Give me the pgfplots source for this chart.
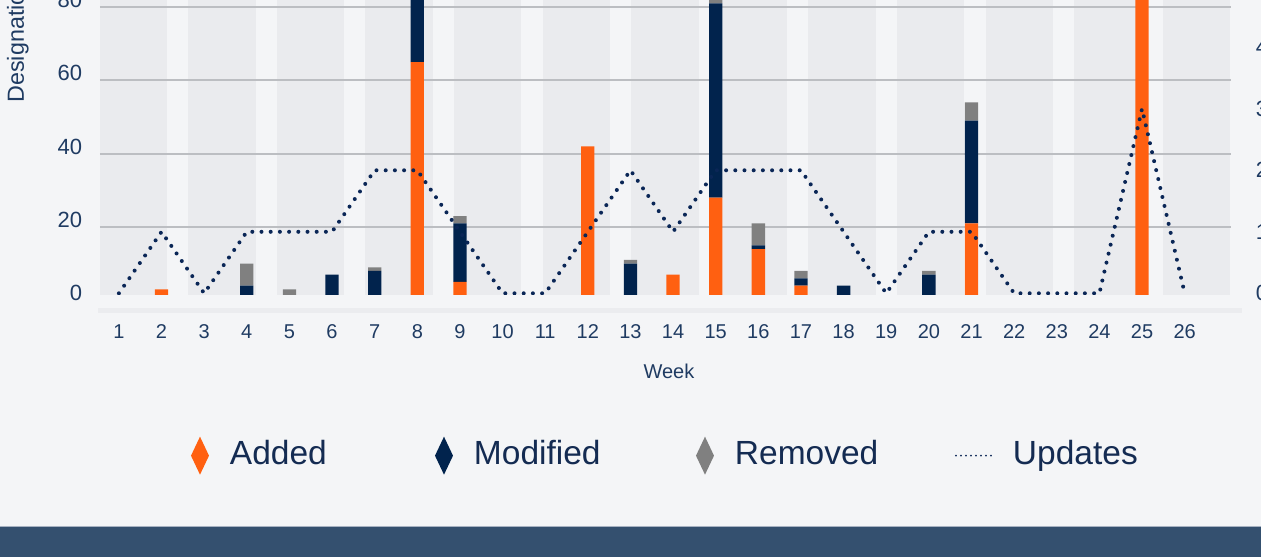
\documentclass[border=0pt]{standalone}
\usepackage{fontspec}
\setmainfont{Liberation Sans}
\usepackage{pgfplots}
\pgfplotsset{compat=1.18}
\definecolor{bgc}{HTML}{F4F5F7}
\definecolor{bandc}{HTML}{EAEBEE}
\definecolor{gridc}{HTML}{BCBEC2}
\definecolor{xband}{HTML}{EBECEF}
\definecolor{footc}{HTML}{34506F}
\definecolor{footl}{HTML}{A7B2C2}
\definecolor{addc}{HTML}{FF6011}
\definecolor{modc}{HTML}{01234D}
\definecolor{remc}{HTML}{808080}
\definecolor{linec}{HTML}{0A2656}
\definecolor{tickc}{HTML}{1F3B62}
\definecolor{legc}{HTML}{142B52}

\begin{document}
\begin{tikzpicture}
\fill[bgc] (0pt,0pt) rectangle (1261pt,557pt);
\fill[footc] (0pt,0pt) rectangle (1261pt,31pt);
\fill[footl] (0pt,29.7pt) rectangle (1261pt,31.2pt);
\fill[xband] (98pt,244pt) rectangle (1242pt,249pt);
\foreach \k in {0,...,12}{
  \pgfmathsetmacro{\xa}{max(100,99.5+88.6*\k)}
  \pgfmathsetmacro{\xb}{min(1231,167+88.6*\k)}
  \fill[bandc] (\xa pt,262pt) rectangle (\xb pt,557pt);
}
\begin{axis}[
  at={(100pt,262pt)}, anchor=south west,
  scale only axis, width=1131pt, height=295pt,
  xmin=0.5566, xmax=27.087, ymin=1.45, ymax=81.94,
  enlargelimits=false, clip=true,
  ybar stacked, bar width=13.3pt,
  axis line style={draw=none}, major tick length=0pt,
  /pgf/number format/assume math mode=true,
  xtick={1,...,26},
  xticklabel style={font=\fontsize{20}{24}\selectfont, text=tickc, anchor=center, inner sep=0pt, yshift=-36.5pt},
  ytick={1.91,21.91,41.91,61.91,81.91},
  yticklabels={0,20,40,60,80},
  yticklabel style={font=\fontsize{22}{26}\selectfont, text=tickc, anchor=east, inner sep=0pt, xshift=-17.7pt},
  extra y ticks={20,40,60,80},
  extra y tick labels={},
  extra y tick style={grid=major, major grid style={draw=gridc, line width=2pt}},
  ylabel={Designations},
  ylabel style={at={(axis description cs:-0.0672,0.6407)}, anchor=base west, font=\fontsize{23.3}{28}\selectfont, text=tickc},
  xlabel={Week},
  xlabel style={at={(axis description cs:0.503,-0.2824)}, anchor=base, font=\fontsize{20}{24}\selectfont, text=tickc},
  legend columns=4,
  legend cell align=left,
  legend style={at={(axis description cs:0.08046,-0.5447)}, anchor=west, draw=none, fill=none, inner sep=0pt, outer sep=0pt, font=\fontsize{33.5}{40}\selectfont, text=legc, nodes={inner sep=0pt}, /tikz/every odd column/.append style={column sep=21pt}},
]
\addplot[fill=addc, draw=none, legend image code/.code={\fill[addc] (0pt,-21.2pt) -- (9pt,-2.2pt) -- (0pt,16.8pt) -- (-9pt,-2.2pt) -- cycle;}] coordinates {
(1,0) (2,3) (3,0) (4,0) (5,0) (6,0) (7,0) (8,65) (9,5) (10,0) (11,0) (12,42) (13,0)
(14,7) (15,28) (16,14) (17,4) (18,0) (19,0) (20,0) (21,21) (22,0) (23,0) (24,0) (25,95) (26,0)};
\addlegendentry{\makebox[205pt][l]{Added}}
\addplot[fill=modc, draw=none, legend image code/.code={\fill[modc] (0pt,-21.2pt) -- (9pt,-2.2pt) -- (0pt,16.8pt) -- (-9pt,-2.2pt) -- cycle;}] coordinates {
(1,0) (2,0) (3,0) (4,4) (5,0) (6,7) (7,8) (8,30) (9,16) (10,0) (11,0) (12,0) (13,10)
(14,0) (15,53) (16,1) (17,2) (18,4) (19,0) (20,7) (21,28) (22,0) (23,0) (24,0) (25,0) (26,0)};
\addlegendentry{\makebox[222pt][l]{Modified}}
\addplot[fill=remc, draw=none, legend image code/.code={\fill[remc] (0pt,-21.2pt) -- (9pt,-2.2pt) -- (0pt,16.8pt) -- (-9pt,-2.2pt) -- cycle;}] coordinates {
(1,0) (2,0) (3,0) (4,6) (5,3) (6,0) (7,1) (8,0) (9,2) (10,0) (11,0) (12,0) (13,1)
(14,0) (15,1) (16,6) (17,2) (18,0) (19,0) (20,1) (21,5) (22,0) (23,0) (24,0) (25,0) (26,0)};
\addlegendentry{\makebox[220pt][l]{Removed}}
\addlegendimage{legend image code/.code={\draw[linec, line width=2pt, line cap=round, dash pattern=on 0pt off 5pt] (0pt,-2.2pt) -- (35pt,-2.2pt);}}
\addlegendentry{Updates}
\end{axis}
\begin{axis}[
  at={(100pt,262pt)}, anchor=south west,
  scale only axis, width=1131pt, height=295pt,
  xmin=0.5566, xmax=27.087, ymin=-0.0276, ymax=4.769,
  enlargelimits=false,
  axis x line=none,
  axis y line*=right,
  axis line style={draw=none}, major tick length=0pt,
  /pgf/number format/assume math mode=true,
  ytick={0,...,5},
  yticklabel style={font=\fontsize{22}{26}\selectfont, text=tickc, anchor=west, inner sep=0pt, xshift=24.7pt},
]
\addplot[linec, line width=4pt, line cap=round, line join=round, dash pattern=on 0pt off 9.2pt] coordinates {
(1,0) (2,1) (3,0) (4,1) (5,1) (6,1) (7,2) (8,2) (9,1) (10,0) (11,0) (12,1) (13,2)
(14,1) (15,2) (16,2) (17,2) (18,1) (19,0) (20,1) (21,1) (22,0) (23,0) (24,0) (25,3) (26,0)};
\end{axis}
\pgfresetboundingbox
\useasboundingbox (0pt,0pt) rectangle (1261pt,557pt);
\end{tikzpicture}
\end{document}
